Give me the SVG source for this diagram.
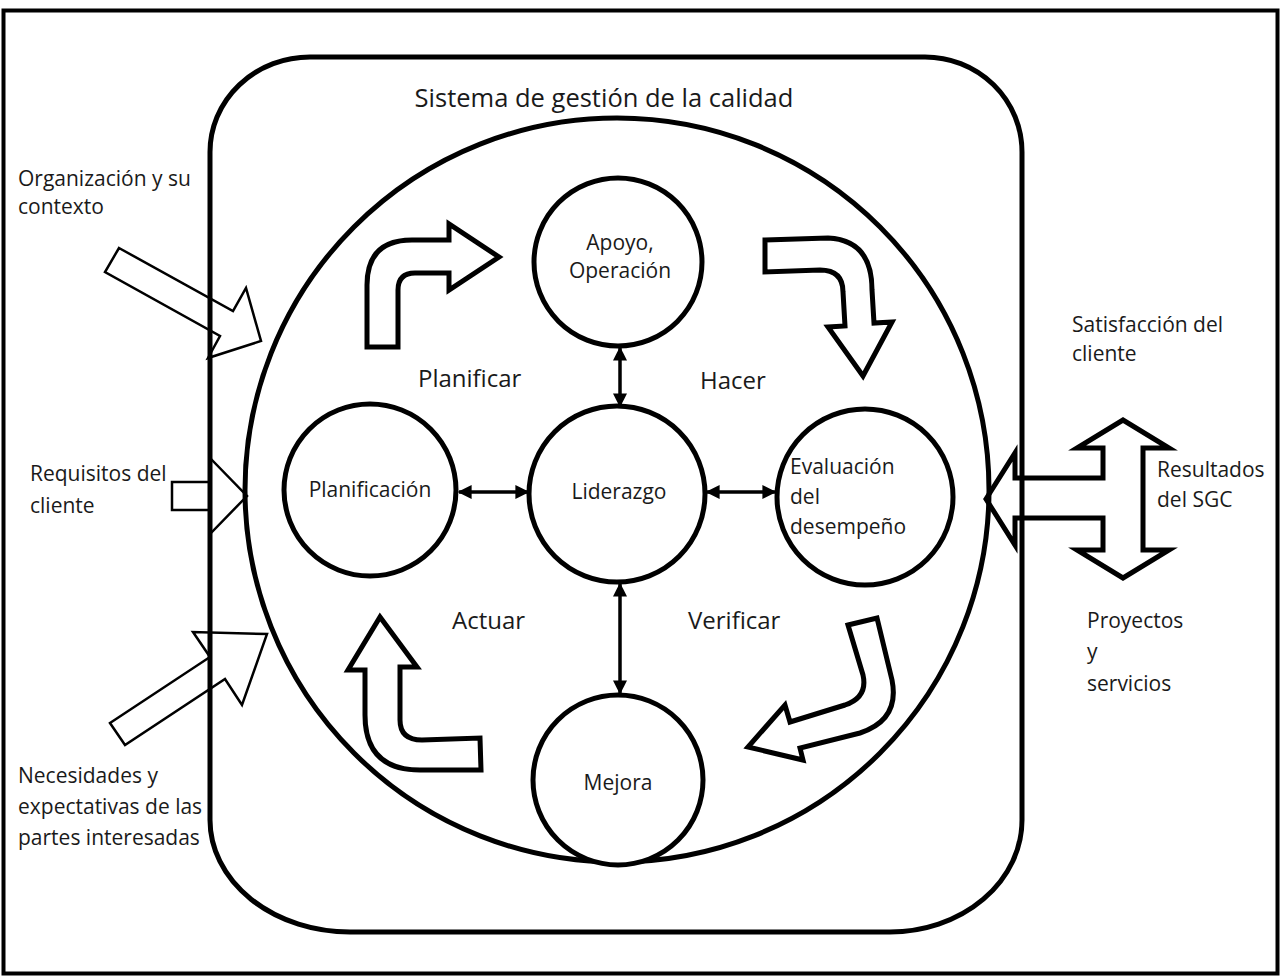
<svg xmlns="http://www.w3.org/2000/svg" width="1282" height="978" viewBox="0 0 1282 978">
<defs>
<marker id="ah" viewBox="0 0 10 10" refX="9" refY="5" markerWidth="4" markerHeight="4" orient="auto-start-reverse" markerUnits="strokeWidth">
<path d="M0,0 L10,5 L0,10 Z" fill="#000"/>
</marker>
<style>
.t{font-family:"Open Sans","Liberation Sans",sans-serif;fill:#1a1a1a;}
.title{font-size:25.5px;}
.big{font-size:24px;}
.lbl{font-size:21px;}
.side{font-size:21px;}
.node{fill:#fff;stroke:#000;stroke-width:5;}
.blk{fill:#fff;stroke:#000;stroke-width:5;stroke-linejoin:miter;}
.thin{fill:#fff;stroke:#000;stroke-width:2.5;}
.con{stroke:#000;stroke-width:3.5;fill:none;marker-start:url(#ah);marker-end:url(#ah);}
</style>
</defs>
<rect x="0" y="0" width="1282" height="978" fill="#fff"/>
<rect x="3.5" y="10.5" width="1274" height="963" fill="none" stroke="#000" stroke-width="4"/>
<g id="inputs">
<polygon class="thin" points="119,248 233,311 246,288 261,341 208,358 220,336 105,272"/>
<polygon class="thin" points="172,482 210,482 210,458 247,496 210,534 210,510 172,510"/>
<polygon class="thin" points="110,723 210,657 193,632 267,634 242,705 225,679 125,745"/>
</g>
<g id="outputs">
<polygon class="blk" points="986,499 1015,453 1015,478 1103,478 1103,448 1077,448 1123,420 1169,448 1143,448 1143,550 1169,550 1123,578 1077,550 1103,550 1103,518 1015,518 1015,545"/>
</g>
<g id="sgc">
<path d="M310,57 L925,57 A97,95 0 0 1 1022,152 L1022,820 A132,112 0 0 1 890,932 L350,932 A140,112 0 0 1 210,820 L210,152 A100,95 0 0 1 310,57 Z" fill="none" stroke="#000" stroke-width="5"/>
<text class="t title" x="604" y="107" text-anchor="middle">Sistema de gestión de la calidad</text>
</g>
<g id="ciclo">
<circle cx="617" cy="490" r="372" fill="none" stroke="#000" stroke-width="5"/>
</g>
<g id="flechas-ciclo">
<path class="blk" d="M367,347 L367,285 Q367,240 412,240 L449,240 L449,224 L499,257 L449,290 L449,273 L415,273 Q398,273 398,290 L398,347 Z"/>
<path class="blk" d="M765,240 L828,238 Q872,240 872,290 L874,323 L892,322 L863,376 L828,327 L845,326 L843,292 Q843,270 820,270 L765,272 Z"/>
<path class="blk" d="M848,625 L877,618 L892,680 Q900,720 860,733 L800,748 L803,760 L748,747 L785,705 L790,722 L845,705 Q868,697 863,675 Z"/>
<path class="blk" d="M380,617 L417,667 L400,667 L400,720 Q400,740 422,740 L480,738 L481,770 L420,770 Q365,770 365,715 L365,670 L348,670 Z"/>
</g>
<g id="connectors">
<line class="con" x1="620" y1="348" x2="620" y2="406"/>
<line class="con" x1="459" y1="492" x2="528" y2="492"/>
<line class="con" x1="707" y1="492" x2="775" y2="492"/>
<line class="con" x1="620" y1="584" x2="620" y2="693"/>
</g>
<g id="apoyo">
<circle class="node" cx="618" cy="262" r="84"/>
<text class="t lbl" x="620" y="250" text-anchor="middle">Apoyo,</text>
<text class="t lbl" x="620" y="278" text-anchor="middle">Operación</text>
</g>
<g id="planificacion">
<circle class="node" cx="370" cy="490" r="86"/>
<text class="t lbl" x="370" y="497" text-anchor="middle">Planificación</text>
</g>
<g id="liderazgo">
<circle class="node" cx="617" cy="494" r="88"/>
<text class="t lbl" x="619" y="499" text-anchor="middle">Liderazgo</text>
</g>
<g id="evaluacion">
<circle class="node" cx="865" cy="497" r="88"/>
<text class="t lbl" x="790" y="474">Evaluación</text>
<text class="t lbl" x="790" y="504">del</text>
<text class="t lbl" x="790" y="534">desempeño</text>
</g>
<g id="mejora">
<circle class="node" cx="618" cy="780" r="85"/>
<text class="t lbl" x="618" y="790" text-anchor="middle">Mejora</text>
</g>
<g id="fases">
<text class="t big" x="418" y="387">Planificar</text>
<text class="t big" x="700" y="389">Hacer</text>
<text class="t big" x="452" y="629">Actuar</text>
<text class="t big" x="688" y="629">Verificar</text>
</g>
<g id="textos-laterales">
<text class="t side" x="18" y="186">Organización y su</text>
<text class="t side" x="18" y="214">contexto</text>
<text class="t side" x="30" y="481">Requisitos del</text>
<text class="t side" x="30" y="513">cliente</text>
<text class="t side" x="18" y="783">Necesidades y</text>
<text class="t side" x="18" y="814">expectativas de las</text>
<text class="t side" x="18" y="845">partes interesadas</text>
<text class="t side" x="1072" y="332">Satisfacción del</text>
<text class="t side" x="1072" y="361">cliente</text>
<text class="t side" x="1157" y="477">Resultados</text>
<text class="t side" x="1157" y="507">del SGC</text>
<text class="t side" x="1087" y="628">Proyectos</text>
<text class="t side" x="1087" y="659">y</text>
<text class="t side" x="1087" y="691">servicios</text>
</g>
</svg>
